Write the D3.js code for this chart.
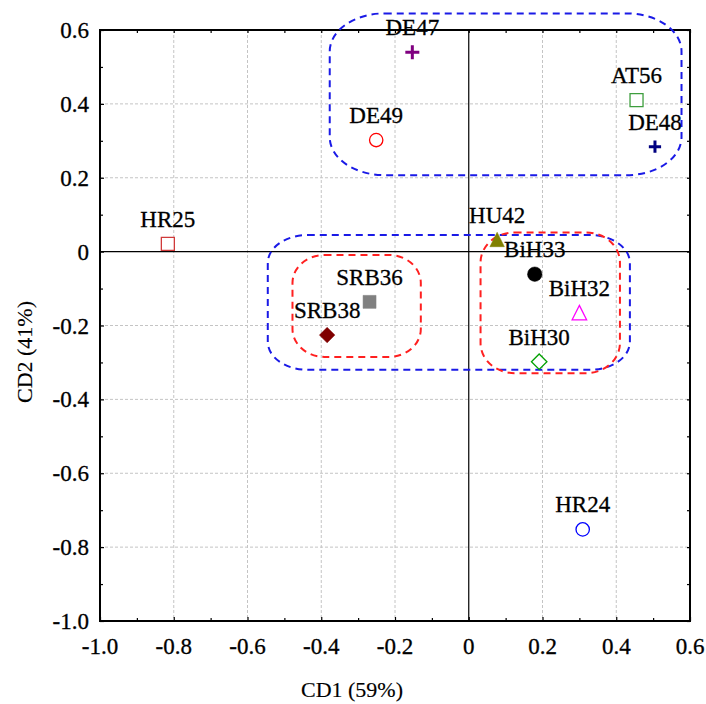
<!DOCTYPE html>
<html>
<head>
<meta charset="utf-8">
<script src="https://cdn.jsdelivr.net/npm/d3@7"></script>
</head>
<body style="margin:0;background:#fff">
<svg id="chart" width="706" height="704" style="display:block"></svg>
<script>
// ---------------- data ----------------
const samples = ["DE47", "DE49", "AT56", "DE48", "HR25", "HU42", "BiH33", "BiH32", "BiH30", "SRB36", "SRB38", "HR24"];
const cd1 = [-0.153, -0.251, 0.455, 0.505, -0.816, 0.077, 0.179, 0.300, 0.191, -0.269, -0.384, 0.309];
const cd2 = [0.540, 0.302, 0.410, 0.284, 0.021, 0.031, -0.061, -0.167, -0.298, -0.136, -0.226, -0.752];
const markerShapes = ["plus", "circle", "square", "plus", "square", "triangle", "circle", "triangle", "diamond", "square", "diamond", "circle"];
const markerFilled = [false, false, false, false, false, true, true, false, false, true, true, false];
const markerColors = ["#800080", "#ff0000", "#3e9e3e", "#000080", "#d03a3a", "#808000", "#000000", "#ff00ff", "#00a000", "#808080", "#800000", "#0000ff"];

const xTickValues = [-1.0, -0.8, -0.6, -0.4, -0.2, 0, 0.2, 0.4, 0.6];
const xTickLabels = ["-1.0", "-0.8", "-0.6", "-0.4", "-0.2", "0", "0.2", "0.4", "0.6"];
const yTickValues = [-1.0, -0.8, -0.6, -0.4, -0.2, 0, 0.2, 0.4, 0.6];
const yTickLabels = ["-1.0", "-0.8", "-0.6", "-0.4", "-0.2", "0", "0.2", "0.4", "0.6"];
const xMinorTicks = [-0.9, -0.7, -0.5, -0.3, -0.1, 0.1, 0.3, 0.5];
const yMinorTicks = [-0.9, -0.7, -0.5, -0.3, -0.1, 0.1, 0.3, 0.5];

// group enclosures (data units): x0, x1, y top, y bottom
const groupNames = ["upper", "lowerWide", "leftInner", "rightInner"];
const groupX0 = [-0.377, -0.545, -0.478, 0.032];
const groupX1 = [0.577, 0.437, -0.130, 0.410];
const groupYTop = [0.645, 0.045, -0.009, 0.052];
const groupYBottom = [0.207, -0.320, -0.285, -0.329];
const groupColors = ["#1a1ae6", "#1a1ae6", "#ff2020", "#ff2020"];

const xTitle = "CD1 (59%)";
const yTitle = "CD2 (41%)";

// ---------------- layout ----------------
const svg = d3.select("#chart");
const L = 100, R = 690, T = 30, B = 621;
const x = d3.scaleLinear().domain([-1.0, 0.6]).range([L, R]);
const y = d3.scaleLinear().domain([-1.0, 0.6]).range([B, T]);

// grid
const grid = svg.append("g");
grid.selectAll("line.vx").data(xTickValues.filter(v => v > -1 && v < 0.6 && v !== 0)).join("line")
  .attr("x1", d => x(d)).attr("x2", d => x(d)).attr("y1", T).attr("y2", B)
  .attr("stroke", "#c4c4c4").attr("stroke-width", 1).attr("stroke-dasharray", "3,2");
grid.selectAll("line.hy").data(yTickValues.filter(v => v > -1 && v < 0.6 && v !== 0)).join("line")
  .attr("x1", L).attr("x2", R).attr("y1", d => y(d)).attr("y2", d => y(d))
  .attr("stroke", "#c4c4c4").attr("stroke-width", 1).attr("stroke-dasharray", "3,2");

// zero lines
svg.append("line").attr("x1", x(0)).attr("x2", x(0)).attr("y1", T).attr("y2", B)
  .attr("stroke", "#000").attr("stroke-width", 1.2);
svg.append("line").attr("x1", L).attr("x2", R).attr("y1", y(0)).attr("y2", y(0))
  .attr("stroke", "#000").attr("stroke-width", 1.2);

// axes: ticks from d3 axis (inward, all four sides), labels as plain text
function styleAxis(g) {
  g.select(".domain").remove();
  g.selectAll(".tick line").attr("stroke", "#000").attr("stroke-width", 1.2);
  g.selectAll(".tick text").remove();
}
styleAxis(svg.append("g").attr("transform", `translate(0,${B})`).call(d3.axisBottom(x).tickValues(xTickValues).tickSizeInner(-4).tickSizeOuter(0)));
styleAxis(svg.append("g").attr("transform", `translate(${L},0)`).call(d3.axisLeft(y).tickValues(yTickValues).tickSizeInner(-4).tickSizeOuter(0)));
styleAxis(svg.append("g").attr("transform", `translate(0,${B})`).call(d3.axisBottom(x).tickValues(xMinorTicks).tickSizeInner(-3).tickSizeOuter(0)));
styleAxis(svg.append("g").attr("transform", `translate(${L},0)`).call(d3.axisLeft(y).tickValues(yMinorTicks).tickSizeInner(-3).tickSizeOuter(0)));
styleAxis(svg.append("g").attr("transform", `translate(0,${T})`).call(d3.axisTop(x).tickValues(xTickValues.concat(xMinorTicks)).tickSizeInner(-3).tickSizeOuter(0)));
styleAxis(svg.append("g").attr("transform", `translate(${R},0)`).call(d3.axisRight(y).tickValues(yTickValues.concat(yMinorTicks)).tickSizeInner(-3).tickSizeOuter(0)));

const txt = svg.append("g").attr("font-family", "Liberation Serif").attr("fill", "#000")
  .attr("stroke", "#000").attr("stroke-width", 0.3);
txt.selectAll("text.xt").data(xTickValues).join("text").attr("class", "xt")
  .attr("x", d => x(d)).attr("y", B + 33).attr("text-anchor", "middle")
  .attr("font-size", 23).text((d, i) => xTickLabels[i]);
txt.selectAll("text.yt").data(yTickValues).join("text").attr("class", "yt")
  .attr("x", L - 11).attr("y", d => y(d) + 8).attr("text-anchor", "end")
  .attr("font-size", 23).text((d, i) => yTickLabels[i]);

// frame
svg.append("rect").attr("x", L).attr("y", T).attr("width", R - L).attr("height", B - T)
  .attr("fill", "none").attr("stroke", "#000").attr("stroke-width", 2);

// group enclosures
const cornerR = [[55, 38], [40, 28], [32, 28], [34, 30]];
svg.append("g").selectAll("rect").data(groupNames).join("rect")
  .attr("x", (d, i) => x(groupX0[i]))
  .attr("y", (d, i) => y(groupYTop[i]))
  .attr("width", (d, i) => x(groupX1[i]) - x(groupX0[i]))
  .attr("height", (d, i) => y(groupYBottom[i]) - y(groupYTop[i]))
  .attr("rx", (d, i) => cornerR[i][0]).attr("ry", (d, i) => cornerR[i][1])
  .attr("fill", "none").attr("stroke", (d, i) => groupColors[i])
  .attr("stroke-width", 2).attr("stroke-dasharray", "7,5");

// markers
const plusType = { draw(ctx, size) { const r = Math.sqrt(size) / 2; ctx.moveTo(-r, 0); ctx.lineTo(r, 0); ctx.moveTo(0, -r); ctx.lineTo(0, r); } };
const diamondType = { draw(ctx, size) { const r = Math.sqrt(size) / 2; ctx.moveTo(0, -r); ctx.lineTo(r, 0); ctx.lineTo(0, r); ctx.lineTo(-r, 0); ctx.closePath(); } };
const triType = { draw(ctx, size) { const h = Math.sqrt(size); ctx.moveTo(0, -h * 0.55); ctx.lineTo(h * 0.5, h * 0.45); ctx.lineTo(-h * 0.5, h * 0.45); ctx.closePath(); } };
const symTypes = { plus: plusType, circle: d3.symbolCircle, square: d3.symbolSquare, triangle: triType, diamond: diamondType };
const symSizes = { plus: 196, circle: 140, square: 169, triangle: 210, diamond: 240 };

svg.append("g").selectAll("path").data(samples).join("path")
  .attr("transform", (d, i) => `translate(${x(cd1[i])},${y(cd2[i])})`)
  .attr("d", (d, i) => {
    const s = markerShapes[i];
    let size = symSizes[s];
    if (markerFilled[i] && s === "circle") size = 165;
    if (s === "plus" && i === 3) size = 150;
    return d3.symbol().type(symTypes[s]).size(size)();
  })
  .attr("fill", (d, i) => markerFilled[i] ? markerColors[i] : (markerShapes[i] === "plus" ? "none" : "#fff"))
  .attr("stroke", (d, i) => markerColors[i])
  .attr("stroke-width", (d, i) => markerShapes[i] === "plus" ? 3 : (markerFilled[i] ? 0.5 : 1.3));

// labels
const lab = svg.append("g").attr("font-family", "Liberation Serif").attr("fill", "#000")
  .attr("stroke", "#000").attr("stroke-width", 0.3);
lab.selectAll("text").data(samples).join("text")
  .attr("x", (d, i) => x(cd1[i]))
  .attr("y", (d, i) => y(cd2[i]) - 17)
  .attr("text-anchor", "middle")
  .attr("font-size", 23)
  .text(d => d);

// axis titles
const ttl = svg.append("g").attr("font-family", "Liberation Serif").attr("fill", "#000")
  .attr("stroke", "#000").attr("stroke-width", 0.15);
ttl.append("text").attr("x", 352).attr("y", 697).attr("text-anchor", "middle")
  .attr("font-size", 22).text(xTitle);
ttl.append("text").attr("transform", "translate(32,352) rotate(-90)").attr("text-anchor", "middle")
  .attr("font-size", 22).text(yTitle);
</script>
</body>
</html>
